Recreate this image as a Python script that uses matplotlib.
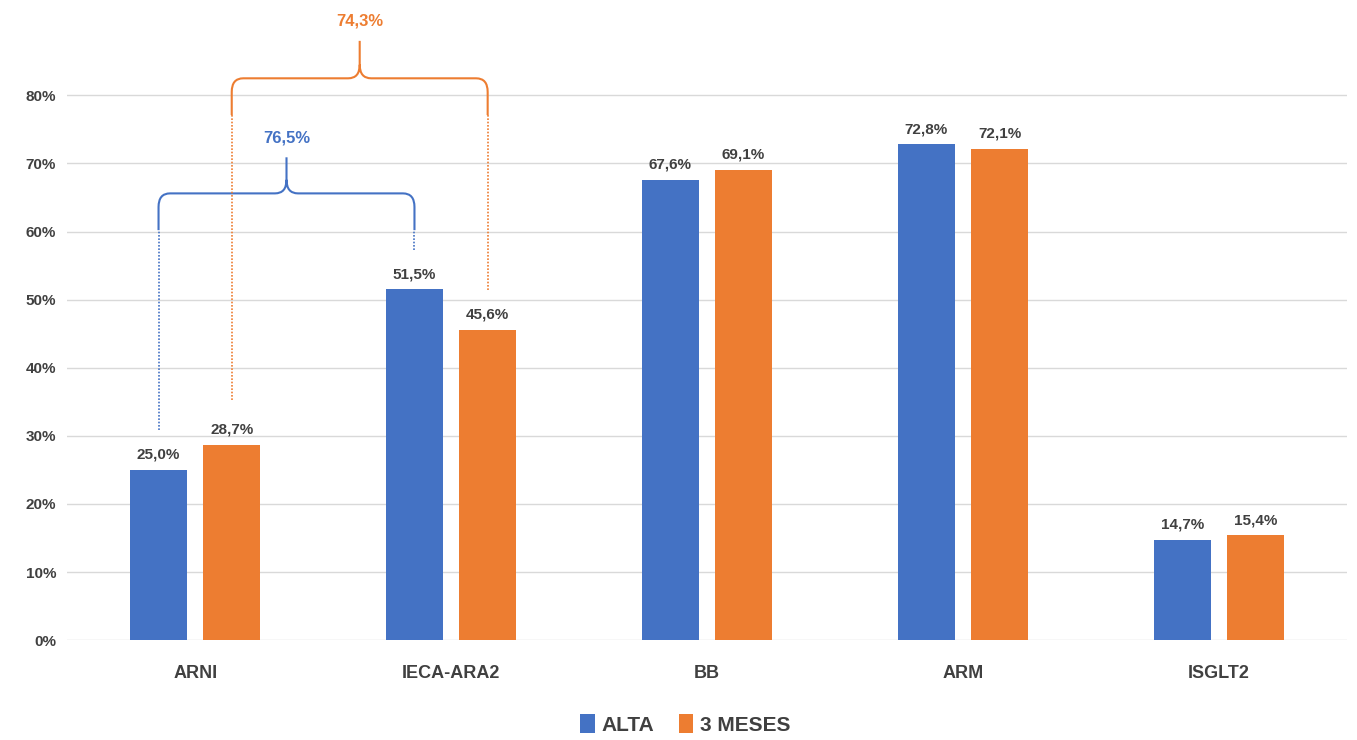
import numpy as np
import matplotlib.pyplot as plt
from matplotlib.path import Path
from matplotlib.patches import PathPatch

categories = ['ARNI', 'IECA-ARA2', 'BB', 'ARM', 'ISGLT2']
alta = [25.0, 51.5, 67.6, 72.8, 14.7]
tres_meses = [28.7, 45.6, 69.1, 72.1, 15.4]
series_names = ['ALTA', '3 MESES']

# brackets: (series index, from category, to category, label)
brackets = [(0, 0, 1, '76,5%'), (1, 0, 1, '74,3%')]

BLUE = '#4472C4'
ORANGE = '#ED7D31'
TEXT = '#404040'
FONT = ['Liberation Sans', 'DejaVu Sans']

plt.rcParams['font.family'] = FONT


def draw_brace(ax, x0, x1, y_base0, y_base1, y_solid, y_h, y_peak, color, label):
    rx = 0.045
    ry = 2.0
    # dotted legs
    ax.plot([x0, x0], [y_base0, y_solid], ls=(0, (1, 1)), color=color, lw=1.2,
            clip_on=False)
    ax.plot([x1, x1], [y_base1, y_solid], ls=(0, (1, 1)), color=color, lw=1.2,
            clip_on=False)
    xc = (x0 + x1) / 2
    verts = [(x0, y_solid), (x0, y_h - ry), (x0, y_h), (x0 + rx, y_h),
             (xc - rx, y_h), (xc, y_h), (xc, y_h + ry), (xc, y_peak),
             (xc, y_h + ry), (xc, y_h), (xc + rx, y_h),
             (x1 - rx, y_h), (x1, y_h), (x1, y_h - ry), (x1, y_solid)]
    codes = [Path.MOVETO, Path.LINETO, Path.CURVE3, Path.CURVE3,
             Path.LINETO, Path.CURVE3, Path.CURVE3, Path.LINETO,
             Path.MOVETO, Path.CURVE3, Path.CURVE3,
             Path.LINETO, Path.CURVE3, Path.CURVE3, Path.LINETO]
    ax.add_patch(PathPatch(Path(verts, codes), fill=False, edgecolor=color,
                           lw=1.5, clip_on=False))
    ax.text(xc, y_peak + 1.8, label, ha='center', va='bottom', color=color,
            fontsize=12, fontweight='bold')


fig = plt.figure(figsize=(13.57, 7.4), dpi=100)
ax = fig.add_axes([0.0495, 0.135, 0.943, 0.865])

x = np.arange(len(categories))
w = 0.223
off = 0.143
vals = [alta, tres_meses]
cols = [BLUE, ORANGE]
for i, (v, c, n) in enumerate(zip(vals, cols, series_names)):
    pos = x + (-off if i == 0 else off)
    ax.bar(pos, v, width=w, color=c, label=n, zorder=3)
    for p, val in zip(pos, v):
        ax.text(p, val + 1.2, f'{val:.1f}%'.replace('.', ','), ha='center',
                va='bottom', fontsize=11, fontweight='bold', color=TEXT)

for s, c0, c1, lab in brackets:
    sgn = -off if s == 0 else off
    v = vals[s]
    if s == 0:
        draw_brace(ax, c0 + sgn, c1 + sgn, v[c0] + 5.8, v[c1] + 5.8,
                   60.2, 65.6, 70.9, cols[s], lab)
    else:
        draw_brace(ax, c0 + sgn, c1 + sgn, v[c0] + 6.5, v[c1] + 5.8,
                   77.1, 82.5, 88.0, cols[s], lab)

ax.set_xlim(-0.5, len(categories) - 0.5)
ax.set_ylim(0, 94)
ax.set_yticks(np.arange(0, 81, 10))
ax.set_yticklabels([f'{t}%' for t in range(0, 81, 10)], fontsize=11,
                   color=TEXT, fontweight='bold')
ax.set_xticks(x)
ax.set_xticklabels(categories, fontsize=13, fontweight='bold', color=TEXT)
ax.tick_params(length=0)
ax.tick_params(axis='x', pad=18)
ax.tick_params(axis='y', pad=8)
for sp in ax.spines.values():
    sp.set_visible(False)
ax.yaxis.grid(True, color='#D9D9D9', lw=1, zorder=0)
ax.set_axisbelow(True)

leg = fig.legend(loc='center', bbox_to_anchor=(0.505, 0.021), ncol=2,
                 frameon=False, handlelength=0.7, handleheight=1.0,
                 handletextpad=0.3, columnspacing=1.2,
                 prop={'family': FONT, 'size': 15, 'weight': 'bold'})
for t in leg.get_texts():
    t.set_color(TEXT)

fig.savefig('out.png', dpi=100)
